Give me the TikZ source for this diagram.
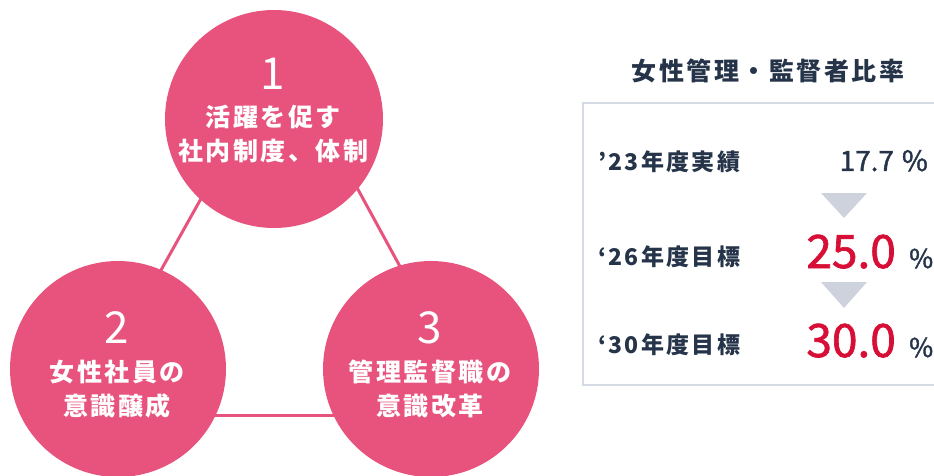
\documentclass[tikz,border=0pt]{standalone}
\usepackage{fontspec}
\setmainfont{Noto Sans CJK JP}
\newfontfamily\jpt[LetterSpace=10]{Noto Sans CJK JP}
\newfontfamily\numf[FakeBold=1.5]{Noto Sans CJK JP}
\definecolor{pinkc}{RGB}{232,83,126}
\definecolor{navy}{RGB}{38,52,74}
\definecolor{redc}{RGB}{215,15,55}
\definecolor{gtri}{RGB}{205,210,220}
\definecolor{boxline}{RGB}{214,218,226}
\tikzset{
  bub/.style={circle,fill=pinkc,minimum size=#1,inner sep=0pt},
  numtxt/.style={text=white,font=\fontsize{44}{44}\selectfont,inner sep=0pt},
  captxt/.style={text=white,font=\jpt\bfseries\fontsize{25}{34}\selectfont,align=center,inner sep=0pt},
  link/.style={draw=pinkc,line width=3pt},
  rowlab/.style={text=navy,font=\jpt\bfseries\fontsize{23}{23}\selectfont,anchor=west,inner sep=0pt},
  bigval/.style={text=redc,font=\numf\fontsize{46}{46}\selectfont,anchor=base east,inner sep=0pt},
  pct/.style={text=navy,font=\numf\fontsize{26}{26}\selectfont,anchor=base west,inner sep=0pt},
  downtri/.style={fill=gtri}
}
\begin{document}
\begin{tikzpicture}[x=1pt,y=-1pt]
\useasboundingbox (0,0) rectangle (934,476);
% triangle connectors
\coordinate (t1) at (283,52);
\coordinate (t2) at (80,415);
\coordinate (t3) at (481,415);
\draw[link] (t1) -- (t2);
\draw[link] (t1) -- (t3);
\draw[link] (t2) -- (t3);
% circles
\node[bub=218pt] (c1) at (274,119) {};
\node[bub=216pt] (c2) at (118,369) {};
\node[bub=216pt] (c3) at (431,369) {};
% circle texts
\node[numtxt] (n1) at (273,74) {1};
\node[captxt] (l1) at (273,134) {活躍を促す\\社内制度、体制};
\node[numtxt] (n2) at (117,328) {2};
\node[captxt] (l2) at (117,389) {女性社員の\\意識醸成};
\node[numtxt] (n3) at (430,328) {3};
\node[captxt] (l3) at (430,389) {管理監督職の\\意識改革};
% right panel
\node[text=navy,font=\jpt\bfseries\fontsize{25}{25}\selectfont,inner sep=0pt] (title) at (768,71) {女性管理・監督者比率};
\draw[boxline,line width=1.5pt] (950,103) -- (583,103) -- (583,385) -- (950,385);
\node[rowlab] (r1) at (598,162) {’23年度実績};
\node[rowlab] (r2) at (598,257) {‘26年度目標};
\node[rowlab] (r3) at (598,345) {‘30年度目標};
\node[text=navy,font=\numf\fontsize{28}{28}\selectfont,anchor=base east,inner sep=0pt] (v1) at (928,171) {17.7\hspace{8pt}\%};
\fill[downtri] (821,193) -- (867,193) -- (844,218) -- cycle;
\node[bigval] (v2) at (896,268) {25.0};
\node[pct] (p2) at (909,268) {\%};
\fill[downtri] (821,282) -- (867,282) -- (844,308) -- cycle;
\node[bigval] (v3) at (896,357) {30.0};
\node[pct] (p3) at (909,357) {\%};
\end{tikzpicture}
\end{document}
